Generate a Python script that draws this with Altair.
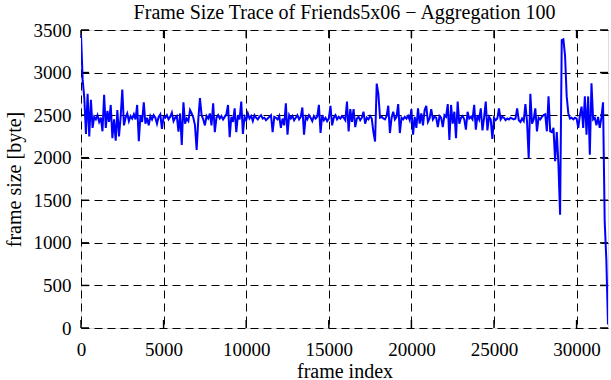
import altair as alt
import pandas as pd

TITLE = "Frame Size Trace of Friends5x06 \u2212 Aggregation 100"
X_TITLE = "frame index"
Y_TITLE = "frame size [byte]"

sizes = [
    3450, 2920, 2700, 2280, 2750, 2250, 2680, 2350,
    2480, 2450, 2500, 2420, 2470, 2310,
    2740, 2350, 2550, 2420,
    2620, 2230, 2450, 2200, 2560, 2250,
    2480, 2800, 2380,
    2470, 2520, 2430, 2490, 2460, 2510, 2450,
    2620, 2195, 2500, 2420, 2650, 2400,
    2470, 2380, 2490, 2450, 2500, 2470, 2400, 2480, 2510, 2340,
    2480, 2470, 2500, 2450, 2480, 2530, 2430, 2470,
    2490, 2305, 2520, 2150, 2650, 2400,
    2460, 2430, 2560, 2520, 2470, 2380, 2090, 2450, 2700, 2500,
    2450, 2380, 2490, 2460, 2520, 2380, 2640, 2300,
    2470, 2500, 2460, 2490, 2450, 2480, 2510, 2620, 2240, 2480,
    2420, 2580, 2300, 2500, 2450, 2660, 2280,
    2480, 2440, 2520, 2460, 2490, 2430, 2500, 2470, 2450, 2480, 2500, 2460,
    2470, 2440, 2460, 2480, 2500, 2300, 2480,
    2470, 2450, 2490, 2350, 2460, 2380, 2640, 2270, 2500,
    2460, 2490, 2440, 2470, 2500, 2450, 2480, 2590, 2270, 2480,
    2450, 2500, 2470, 2430, 2490, 2460, 2480, 2620, 2290, 2500,
    2440, 2470, 2430, 2460, 2610, 2380,
    2470, 2500, 2450, 2480, 2460, 2490, 2470, 2440,
    2660, 2310, 2570, 2420, 2570, 2360,
    2460, 2480, 2440, 2470, 2540, 2400, 2470, 2450, 2490, 2460,
    2300, 2190, 2870, 2750,
    2470, 2480, 2460, 2450, 2490, 2610, 2290,
    2470, 2540, 2450, 2480, 2630, 2290,
    2470, 2450, 2480, 2460, 2490, 2440, 2570, 2270, 2480,
    2350, 2580, 2400, 2520, 2380, 2560, 2610, 2420,
    2460, 2570, 2450, 2480, 2470, 2360, 2490, 2470, 2360, 2500, 2480,
    2630, 2210, 2620, 2400, 2540, 2230, 2660, 2400,
    2470, 2490, 2450, 2330, 2540, 2460, 2480, 2450, 2620, 2330, 2500, 2450,
    2580, 2320, 2470, 2660, 2320, 2480, 2450, 2220,
    2470, 2440, 2460, 2580, 2450, 2480, 2470, 2440, 2460, 2450, 2470,
    2460, 2450, 2460, 2580, 2440, 2420, 2460, 2430, 2630, 2420,
    1995, 2750, 2400,
    2450, 2580, 2310, 2470, 2450, 2480, 2500, 2510,
    2310, 2720, 2310, 2300, 2350, 1960, 2300, 1920,
    1330, 3380, 3390, 3200, 2720, 2520,
    2460, 2470, 2450, 2470, 2460, 2350, 2500, 2600,
    2350, 2720, 2270, 2720, 2035, 2875,
    2450, 2470, 2380, 2480, 2350, 2470, 2650,
    1250, 800, 40,
]
AGG = 100
frames = [i * AGG for i in range(len(sizes))]

x_ticks = [0, 5000, 10000, 15000, 20000, 25000, 30000]
y_ticks = [0, 500, 1000, 1500, 2000, 2500, 3000, 3500]

W, H = 527, 298
XMAX = frames[-1]
YMAX = 3500
TICK_PX = 8
FONT = "Liberation Serif"
FS_LABEL = 19
FS_TITLE = 20

df = pd.DataFrame({"frame": frames, "size": sizes})

xs = alt.Scale(domain=[0, XMAX], nice=False, zero=False)
ys = alt.Scale(domain=[0, YMAX], nice=False, zero=False)

# inward gnuplot-style ticks on all four borders
tx = XMAX * TICK_PX / W
ty = YMAX * TICK_PX / H
rows = []
for t in x_ticks:
    rows.append({"x": t, "x2": t, "y": 0, "y2": ty})
    rows.append({"x": t, "x2": t, "y": YMAX, "y2": YMAX - ty})
for v in y_ticks:
    rows.append({"x": 0, "x2": tx, "y": v, "y2": v})
    rows.append({"x": XMAX - tx, "x2": XMAX, "y": v, "y2": v})
ticks_df = pd.DataFrame(rows)

x_axis = alt.Axis(
    values=x_ticks, title=X_TITLE, grid=True, gridDash=[8, 5], gridColor="black",
    gridOpacity=1, gridWidth=1, domain=False, ticks=False, labelPadding=12,
    labelFont=FONT, labelFontSize=FS_LABEL, labelColor="black", labelFlush=False,
    format="d", titleFont=FONT, titleFontSize=FS_TITLE, titleFontWeight="normal",
    titleColor="black", titleX=W / 2, titleY=49, titleAlign="center",
    titleBaseline="alphabetic",
)
y_axis = alt.Axis(
    values=y_ticks, title=Y_TITLE, grid=True, gridDash=[8, 5], gridColor="black",
    gridOpacity=1, gridWidth=1, domain=False, ticks=False, labelPadding=10,
    labelFont=FONT, labelFontSize=FS_LABEL, labelColor="black", labelFlush=False,
    format="d", titleFont=FONT, titleFontSize=FS_TITLE, titleFontWeight="normal",
    titleColor="black", titleX=-61, titleY=H / 2, titleAlign="center",
    titleBaseline="alphabetic", titleAngle=-90,
)

line = alt.Chart(df).mark_line(color="#0000ff", strokeWidth=2, clip=True).encode(
    x=alt.X("frame:Q", scale=xs, axis=x_axis),
    y=alt.Y("size:Q", scale=ys, axis=y_axis),
)

tick_marks = alt.Chart(ticks_df).mark_rule(color="black", strokeWidth=1.5).encode(
    x=alt.X("x:Q", scale=xs),
    x2="x2:Q",
    y=alt.Y("y:Q", scale=ys),
    y2="y2:Q",
)

chart = alt.layer(tick_marks, line).properties(
    width=W,
    height=H,
    title=alt.TitleParams(TITLE, font=FONT, fontSize=FS_TITLE, fontWeight="normal",
                          color="black", anchor="middle", baseline="alphabetic",
                          offset=0, dy=18),
    autosize=alt.AutoSizeParams(type="none"),
    padding={"left": 81, "top": 30, "right": 3, "bottom": 52},
).configure_view(stroke="black", strokeWidth=2).configure(background="white")

chart.save("out.html", embed_options={"renderer": "svg", "actions": False})
